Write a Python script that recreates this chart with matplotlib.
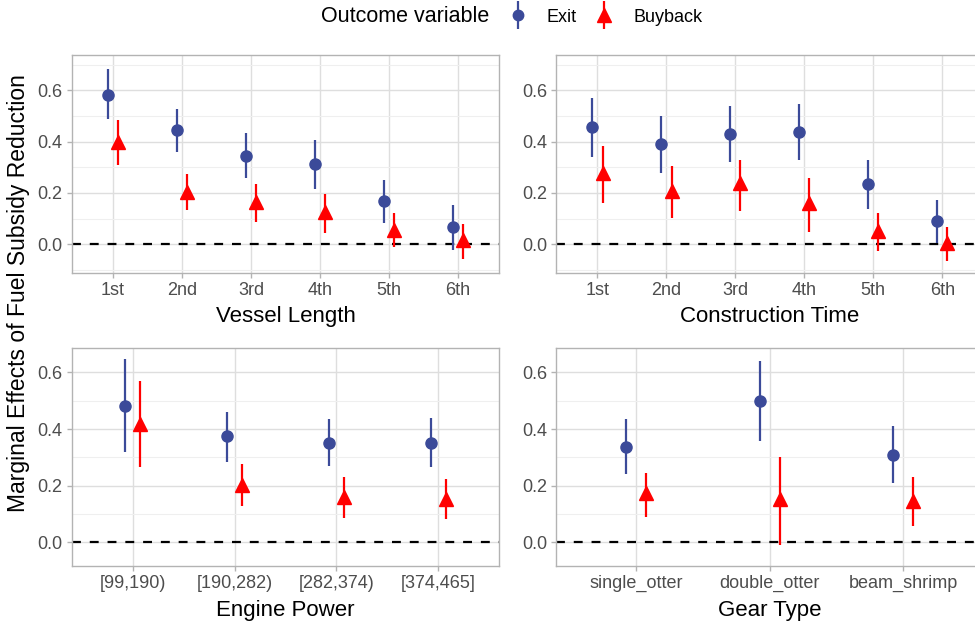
import matplotlib
matplotlib.use("Agg")
import matplotlib.pyplot as plt
from matplotlib.lines import Line2D
from matplotlib.legend_handler import HandlerTuple
from matplotlib.ticker import MultipleLocator

plt.rcParams['font.family'] = ['Liberation Sans', 'DejaVu Sans']

# data
vessel_cats = ["1st", "2nd", "3rd", "4th", "5th", "6th"]
vessel_exit = [0.583, 0.444, 0.345, 0.312, 0.168, 0.066]
vessel_exit_lo = [0.486, 0.360, 0.260, 0.216, 0.083, -0.021]
vessel_exit_hi = [0.682, 0.527, 0.432, 0.408, 0.249, 0.152]
vessel_buy = [0.400, 0.204, 0.165, 0.126, 0.057, 0.016]
vessel_buy_lo = [0.308, 0.132, 0.086, 0.044, -0.010, -0.057]
vessel_buy_hi = [0.483, 0.275, 0.236, 0.197, 0.120, 0.081]

constr_cats = ["1st", "2nd", "3rd", "4th", "5th", "6th"]
constr_exit = [0.456, 0.390, 0.430, 0.438, 0.233, 0.089]
constr_exit_lo = [0.341, 0.279, 0.320, 0.328, 0.139, 0.006]
constr_exit_hi = [0.569, 0.500, 0.539, 0.548, 0.328, 0.171]
constr_buy = [0.279, 0.209, 0.237, 0.159, 0.052, 0.004]
constr_buy_lo = [0.162, 0.101, 0.131, 0.049, -0.025, -0.065]
constr_buy_hi = [0.384, 0.306, 0.330, 0.258, 0.120, 0.066]

engine_cats = ["[99,190)", "[190,282)", "[282,374)", "[374,465]"]
engine_exit = [0.482, 0.374, 0.352, 0.352]
engine_exit_lo = [0.319, 0.285, 0.270, 0.266]
engine_exit_hi = [0.646, 0.461, 0.434, 0.438]
engine_buy = [0.416, 0.202, 0.159, 0.153]
engine_buy_lo = [0.265, 0.128, 0.085, 0.084]
engine_buy_hi = [0.569, 0.277, 0.229, 0.222]

gear_cats = ["single_otter", "double_otter", "beam_shrimp"]
gear_exit = [0.337, 0.499, 0.309]
gear_exit_lo = [0.241, 0.357, 0.208]
gear_exit_hi = [0.434, 0.641, 0.410]
gear_buy = [0.173, 0.152, 0.147]
gear_buy_lo = [0.090, -0.010, 0.058]
gear_buy_hi = [0.246, 0.302, 0.232]

exit_color = "#3B4A99"
buy_color = "#FF0000"
dodge = 0.075

W, H = 975, 622
fig = plt.figure(figsize=(W / 100, H / 100), dpi=100)


def px_axes(left, top, right, bottom):
    return fig.add_axes([left / W, 1 - bottom / H, (right - left) / W, (bottom - top) / H])


def panel(ax, cats, ex, ex_lo, ex_hi, bu, bu_lo, bu_hi, xlabel, ylim):
    xs = list(range(1, len(cats) + 1))
    xe = [x - dodge for x in xs]
    xb = [x + dodge for x in xs]
    ax.vlines(xe, ex_lo, ex_hi, color=exit_color, lw=1.6, zorder=3)
    ax.plot(xe, ex, 'o', color=exit_color, ms=8, zorder=4)
    ax.vlines(xb, bu_lo, bu_hi, color=buy_color, lw=1.6, zorder=3)
    ax.plot(xb, bu, '^', color=buy_color, ms=10, zorder=4)
    ax.axhline(0, color="black", lw=1.6, ls=(0, (4, 4)), zorder=2)
    ax.set_xlim(0.4, len(cats) + 0.6)
    ax.set_ylim(*ylim)
    ax.set_xticks(xs)
    ax.set_xticklabels(cats)
    ax.yaxis.set_minor_locator(MultipleLocator(0.1))
    ax.xaxis.set_minor_locator(plt.NullLocator())
    ax.set_yticks([0.0, 0.2, 0.4, 0.6])
    ax.yaxis.set_major_formatter(plt.FuncFormatter(lambda v, p: f"{v:.1f}"))
    ax.grid(which='major', color="#DEDEDE", lw=1.0, zorder=0)
    ax.grid(which='minor', axis='y', color="#EFEFEF", lw=0.8, zorder=0)
    ax.set_axisbelow(True)
    for s in ax.spines.values():
        s.set_color("#B3B3B3")
        s.set_linewidth(1.0)
    ax.tick_params(which='major', color="#B3B3B3", length=3.5, width=1.0,
                   labelcolor="#4D4D4D", labelsize=13, pad=3)
    ax.tick_params(which='minor', length=0)
    ax.set_xlabel(xlabel, fontsize=16, color="black")


top_ylim = (-0.1105, 0.737)
bot_ylim = (-0.0837, 0.685)

ax1 = px_axes(71.7, 55, 499.3, 272.7)
panel(ax1, vessel_cats, vessel_exit, vessel_exit_lo, vessel_exit_hi,
      vessel_buy, vessel_buy_lo, vessel_buy_hi, "Vessel Length", top_ylim)
ax2 = px_axes(556, 55, 983.6, 272.7)
panel(ax2, constr_cats, constr_exit, constr_exit_lo, constr_exit_hi,
      constr_buy, constr_buy_lo, constr_buy_hi, "Construction Time", top_ylim)
ax3 = px_axes(71.7, 348.3, 499.3, 566)
panel(ax3, engine_cats, engine_exit, engine_exit_lo, engine_exit_hi,
      engine_buy, engine_buy_lo, engine_buy_hi, "Engine Power", bot_ylim)
ax4 = px_axes(556, 348.3, 983.6, 566)
panel(ax4, gear_cats, gear_exit, gear_exit_lo, gear_exit_hi,
      gear_buy, gear_buy_lo, gear_buy_hi, "Gear Type", bot_ylim)

# the plot is cut at the right edge in the reference, centre the x label on the visible part
for a in (ax2, ax4):
    a.xaxis.set_label_coords((769.8 - 556) / 427.6, -0.155)
for a in (ax1, ax3):
    a.xaxis.set_label_coords(0.5, -0.155)

fig.text(18.5 / W, 1 - 293 / H, "Marginal Effects of Fuel Subsidy Reduction",
         rotation=90, ha='center', va='center', fontsize=16.5, color="black")

# legend
fig.text(321 / W, 1 - 17 / H, "Outcome variable", ha='left', va='center', fontsize=15.5)
h_exit = (Line2D([], [], marker='|', ms=20, mew=1.6, color=exit_color, ls='None'),
          Line2D([], [], marker='o', ms=7.5, color=exit_color, ls='None'))
h_buy = (Line2D([], [], marker='|', ms=20, mew=1.6, color=buy_color, ls='None'),
         Line2D([], [], marker='^', ms=10, color=buy_color, ls='None'))
fig.legend([h_exit, h_buy], ["Exit", "Buyback"], ncol=2, frameon=False,
           handler_map={tuple: HandlerTuple(ndivide=1)},
           loc='center left', bbox_to_anchor=(491 / W, 1 - 17 / H),
           fontsize=13, handlelength=1.2, handletextpad=1.0, columnspacing=0.9)

fig.savefig("out.png", dpi=100)
